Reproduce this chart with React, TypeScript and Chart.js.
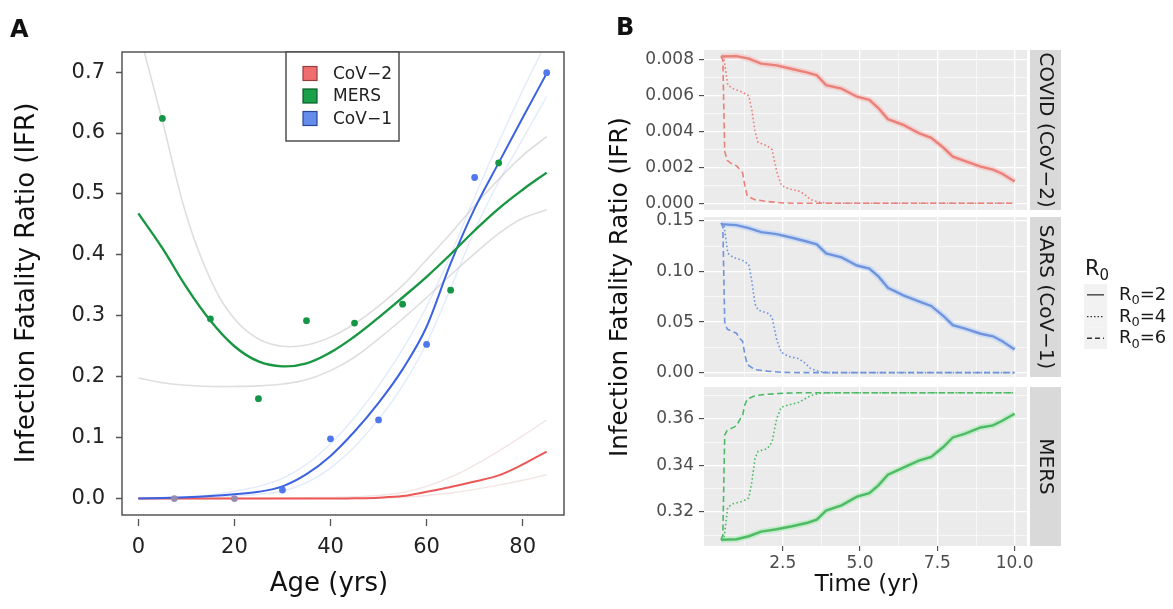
import React, { useEffect, useRef } from "react";
import { Chart, registerables } from "chart.js";

Chart.register(...registerables);

const FONT = "'DejaVu Sans', sans-serif";
const W = 1173;
const H = 609;

// ---------------- Panel A : IFR by age ----------------
const AGE_FIT = [0, 5, 10, 15, 20, 25, 30, 35, 40, 45, 50, 55, 60, 65, 70, 75, 80, 85];
const MERS_FIT = [0.468, 0.411, 0.347, 0.292, 0.25, 0.225, 0.217, 0.222, 0.24, 0.266, 0.297, 0.33, 0.364, 0.401, 0.44, 0.476, 0.507, 0.535];
const MERS_UPPER = [0.77, 0.62, 0.465, 0.36, 0.295, 0.262, 0.25, 0.252, 0.265, 0.287, 0.316, 0.35, 0.392, 0.435, 0.481, 0.524, 0.563, 0.594];
const MERS_LOWER = [0.198, 0.19, 0.186, 0.184, 0.184, 0.185, 0.188, 0.195, 0.21, 0.232, 0.262, 0.295, 0.33, 0.367, 0.402, 0.435, 0.46, 0.474];
const COV1_FIT = [0, 0.001, 0.002, 0.004, 0.007, 0.011, 0.02, 0.04, 0.07, 0.11, 0.157, 0.212, 0.282, 0.386, 0.476, 0.551, 0.625, 0.698];
const COV1_UPPER = [0, 0.001, 0.003, 0.006, 0.012, 0.02, 0.033, 0.056, 0.09, 0.133, 0.185, 0.245, 0.315, 0.4, 0.495, 0.585, 0.67, 0.75];
const COV1_LOWER = [0, 0, 0.001, 0.002, 0.004, 0.007, 0.012, 0.026, 0.05, 0.085, 0.13, 0.185, 0.255, 0.345, 0.44, 0.52, 0.59, 0.66];
const COV2_FIT = [0, 0, 0, 0, 0, 0, 0, 0, 0, 0.0005, 0.0015, 0.004, 0.011, 0.019, 0.028, 0.038, 0.056, 0.077];
const COV2_UPPER = [0, 0, 0, 0, 0, 0, 0.001, 0.0015, 0.002, 0.003, 0.005, 0.01, 0.02, 0.035, 0.055, 0.078, 0.103, 0.129];
const COV2_LOWER = [0, 0, 0, 0, 0, 0, 0, 0, 0, 0, 0.001, 0.002, 0.005, 0.009, 0.015, 0.022, 0.03, 0.039];

const MERS_AGES = [5, 15, 25, 35, 45, 55, 65, 75];
const MERS_IFR = [0.624, 0.295, 0.164, 0.292, 0.288, 0.319, 0.342, 0.551];
const COV1_AGES = [30, 40, 50, 60, 70, 85];
const COV1_IFR = [0.014, 0.098, 0.129, 0.253, 0.527, 0.699];
const COV2_AGES = [7.5, 20];
const COV2_IFR = [0.0, 0.0];

const AGE_TICKS = [0, 20, 40, 60, 80];
const IFR_TICKS_A = [0, 0.1, 0.2, 0.3, 0.4, 0.5, 0.6, 0.7];
const LEGEND_A = ["CoV\u22122", "MERS", "CoV\u22121"];

// ---------------- Panel B : IFR over time ----------------
const TIME_R2 = [0.5, 1.0, 1.4, 1.8, 2.3, 2.8, 3.3, 3.6, 3.9, 4.4, 4.9, 5.3, 5.6, 5.9, 6.4, 6.9, 7.3, 7.7, 8.0, 8.4, 8.9, 9.3, 9.6, 10];
const TIME_R4 = [0.5, 0.6, 0.72, 0.9, 1.2, 1.4, 1.5, 1.6, 1.7, 2.0, 2.15, 2.3, 2.45, 2.7, 3.0, 3.2, 3.4, 3.7, 4.0, 10];
const TIME_R6 = [0.5, 0.56, 0.62, 0.7, 0.85, 1.0, 1.1, 1.2, 1.27, 1.35, 1.6, 2.0, 2.5, 3.0, 10];

const COVID_R2 = [0.0082, 0.00822, 0.00808, 0.0078, 0.0077, 0.0075, 0.0073, 0.00715, 0.0066, 0.0064, 0.00595, 0.00578, 0.0053, 0.0047, 0.00438, 0.00392, 0.00365, 0.0031, 0.0026, 0.00235, 0.00205, 0.00188, 0.00165, 0.00122];
const COVID_R4 = [0.0082, 0.008, 0.0066, 0.0064, 0.0062, 0.006, 0.0052, 0.004, 0.0034, 0.0032, 0.003, 0.0018, 0.001, 0.0008, 0.0007, 0.0005, 0.0002, 0.00005, 0, 0];
const COVID_R6 = [0.0082, 0.008, 0.0029, 0.0024, 0.0022, 0.0021, 0.0019, 0.0017, 0.001, 0.0004, 0.0002, 0.0001, 0.00002, 0, 0];

const SARS_R2 = [0.147, 0.146, 0.143, 0.139, 0.137, 0.1335, 0.1295, 0.127, 0.118, 0.114, 0.106, 0.103, 0.095, 0.084, 0.0765, 0.0705, 0.066, 0.056, 0.047, 0.0435, 0.0385, 0.036, 0.031, 0.023];
const SARS_R4 = [0.148, 0.145, 0.118, 0.114, 0.111, 0.107, 0.09, 0.068, 0.062, 0.059, 0.055, 0.033, 0.02, 0.016, 0.014, 0.01, 0.004, 0.001, 0, 0];
const SARS_R6 = [0.148, 0.145, 0.05, 0.043, 0.041, 0.039, 0.034, 0.031, 0.018, 0.008, 0.003, 0.0015, 0.0003, 0, 0];

const MERS_R2 = [0.308, 0.3082, 0.3095, 0.3115, 0.3125, 0.3138, 0.3153, 0.3166, 0.3205, 0.3228, 0.3265, 0.328, 0.3315, 0.336, 0.339, 0.342, 0.3436, 0.348, 0.352, 0.3536, 0.3563, 0.3572, 0.3592, 0.3622];
const MERS_R4 = [0.308, 0.309, 0.322, 0.3235, 0.3245, 0.326, 0.333, 0.343, 0.346, 0.3472, 0.35, 0.36, 0.365, 0.366, 0.367, 0.3685, 0.37, 0.371, 0.3712, 0.3712];
const MERS_R6 = [0.308, 0.31, 0.353, 0.355, 0.356, 0.357, 0.3595, 0.3615, 0.366, 0.3685, 0.37, 0.3706, 0.371, 0.3712, 0.3712];

const TIME_MAJOR = [2.5, 5, 7.5, 10];
const TIME_MINOR = [1.25, 3.75, 6.25, 8.75];
const COVID_MAJOR = [0, 0.002, 0.004, 0.006, 0.008];
const COVID_MINOR = [0.001, 0.003, 0.005, 0.007];
const SARS_MAJOR = [0, 0.05, 0.1, 0.15];
const SARS_MINOR = [0.025, 0.075, 0.125];
const MERSB_MAJOR = [0.32, 0.34, 0.36];
const MERSB_MINOR = [0.31, 0.33, 0.35, 0.37];
const FACET_LABELS = ["COVID (CoV\u22122)", "SARS (CoV\u22121)", "MERS"];
const R0_VALUES = ["2", "4", "6"];

// ---------------- helpers ----------------
type Box = { left: number; top: number; right: number; bottom: number };
const pts = (xs: number[], ys: number[]) => xs.map((x, i) => ({ x, y: ys[i] }));
const has = (list: number[], v: any) => typeof v === "number" && list.some((m) => Math.abs(m - v) < 1e-9);

function txt(ctx: CanvasRenderingContext2D, s: string, x: number, y: number, o: any = {}) {
  ctx.save();
  ctx.font = `${o.weight || "normal"} ${o.size || 16}px ${FONT}`;
  ctx.fillStyle = o.color || "#1a1a1a";
  ctx.textAlign = o.align || "center";
  ctx.textBaseline = o.baseline || "middle";
  ctx.translate(x, y);
  if (o.rotate) ctx.rotate(o.rotate);
  ctx.fillText(s, 0, 0);
  ctx.restore();
}

function rLabel(ctx: CanvasRenderingContext2D, x: number, y: number, size: number, suffix: string) {
  ctx.save();
  ctx.fillStyle = "#1a1a1a";
  ctx.textBaseline = "alphabetic";
  ctx.textAlign = "left";
  ctx.font = `${size}px ${FONT}`;
  ctx.fillText("R", x, y);
  const w1 = ctx.measureText("R").width;
  ctx.font = `${Math.round(size * 0.7)}px ${FONT}`;
  ctx.fillText("0", x + w1, y + size * 0.25);
  const w2 = ctx.measureText("0").width;
  if (suffix) {
    ctx.font = `${size}px ${FONT}`;
    ctx.fillText(suffix, x + w1 + w2, y);
  }
  ctx.restore();
}

// ---------------- Panel A config ----------------
const AREA_A: Box = { left: 122, top: 52, right: 564, bottom: 515 };
const RED = "rgb(236, 88, 88)";
const GREEN = "rgb(24, 150, 66)";
const BLUE = "rgb(58, 98, 225)";

function fitLine(label: string, ys: number[], color: string, width: number, smooth = false) {
  const base: any = {
    label,
    data: pts(AGE_FIT, ys),
    showLine: true,
    borderColor: color,
    backgroundColor: color,
    borderWidth: width,
    pointRadius: 0,
  };
  if (smooth) base.tension = 0.4;
  else base.cubicInterpolationMode = "monotone";
  return base;
}
function dots(label: string, xs: number[], ys: number[], color: string) {
  return { label, data: pts(xs, ys), showLine: false, backgroundColor: color, borderColor: color, pointRadius: 3.4, pointBorderWidth: 0 };
}

const panelAPlugin = {
  id: "panelA",
  afterDraw(chart: any) {
    const ctx: CanvasRenderingContext2D = chart.ctx;
    const ca = chart.chartArea;
    ctx.save();
    ctx.strokeStyle = "#555";
    ctx.lineWidth = 1.5;
    ctx.strokeRect(ca.left, ca.top, ca.right - ca.left, ca.bottom - ca.top);
    // legend
    const lg = { left: 286, top: ca.top, right: 399, bottom: 141 };
    ctx.fillStyle = "#fff";
    ctx.fillRect(lg.left, lg.top, lg.right - lg.left, lg.bottom - lg.top);
    ctx.strokeStyle = "#444";
    ctx.lineWidth = 1.4;
    ctx.strokeRect(lg.left, lg.top, lg.right - lg.left, lg.bottom - lg.top);
    const fills = ["rgb(240,110,110)", "rgb(26,160,72)", "rgb(100,140,235)"];
    const edges = ["rgb(150,60,60)", "rgb(10,90,40)", "rgb(40,70,150)"];
    LEGEND_A.forEach((s, i) => {
      const cy = 73.5 + i * 22.5;
      ctx.fillStyle = fills[i];
      ctx.fillRect(303, cy - 7, 14, 14);
      ctx.strokeStyle = edges[i];
      ctx.lineWidth = 1.2;
      ctx.strokeRect(303, cy - 7, 14, 14);
      txt(ctx, s, 333, cy + 1, { size: 17, align: "left", color: "#222" });
    });
    ctx.restore();
    txt(ctx, "A", 10, 37, { size: 24, weight: "bold", align: "left", baseline: "alphabetic", color: "#111" });
    txt(ctx, "Infection Fatality Ratio (IFR)", 27, 283, { size: 26, rotate: -Math.PI / 2, color: "#111" });
    txt(ctx, "Age (yrs)", 329, 584, { size: 26, color: "#111" });
  },
};

function panelAConfig(): any {
  return {
    type: "scatter",
    data: {
      datasets: [
        dots("MERS data", MERS_AGES, MERS_IFR, "rgb(20,150,70)"),
        dots("CoV-1 data", COV1_AGES, COV1_IFR, "rgb(80,120,235)"),
        dots("CoV-2 data", COV2_AGES, COV2_IFR, "rgb(150,140,175)"),
        fitLine("MERS", MERS_FIT, GREEN, 2.4, true),
        fitLine("CoV-1", COV1_FIT, BLUE, 2),
        fitLine("CoV-2", COV2_FIT, RED, 2),
        fitLine("MERS upper", MERS_UPPER, "rgba(205,205,205,0.65)", 1.6, true),
        fitLine("MERS lower", MERS_LOWER, "rgba(205,205,205,0.65)", 1.6, true),
        fitLine("CoV-1 upper", COV1_UPPER, "rgba(190,210,245,0.45)", 1.4),
        fitLine("CoV-1 lower", COV1_LOWER, "rgba(190,210,245,0.45)", 1.4),
        fitLine("CoV-2 upper", COV2_UPPER, "rgba(235,210,210,0.6)", 1.4),
        fitLine("CoV-2 lower", COV2_LOWER, "rgba(235,210,210,0.6)", 1.4),
      ],
    },
    options: {
      responsive: false,
      animation: false,
      layout: { padding: { left: 0, top: AREA_A.top, right: W - AREA_A.right, bottom: 0 } },
      plugins: { legend: { display: false }, tooltip: { enabled: false } },
      scales: {
        x: {
          type: "linear",
          min: -3.4,
          max: 88.6,
          afterFit: (s: any) => { s.height = H - AREA_A.bottom; },
          afterBuildTicks: (s: any) => { s.ticks = AGE_TICKS.map((v) => ({ value: v })); },
          border: { display: false },
          grid: { drawOnChartArea: false, drawTicks: true, tickLength: 11, tickColor: "#555", tickWidth: 1.3, tickBorderDash: [0, 4, 7, 100] },
          ticks: { autoSkip: false, maxRotation: 0, padding: 9, color: "#222", font: { size: 21, family: FONT }, callback: (v: any) => String(v) },
        },
        y: {
          type: "linear",
          min: -0.027,
          max: 0.733,
          afterFit: (s: any) => { s.width = AREA_A.left; },
          afterBuildTicks: (s: any) => { s.ticks = IFR_TICKS_A.map((v) => ({ value: v })); },
          border: { display: false },
          grid: { drawOnChartArea: false, drawTicks: true, tickLength: 11, tickColor: "#555", tickWidth: 1.3, tickBorderDash: [0, 5, 6, 100] },
          ticks: { autoSkip: false, padding: 6, color: "#222", font: { size: 21, family: FONT }, callback: (v: any) => Number(v).toFixed(1) },
        },
      },
    },
    plugins: [panelAPlugin],
  };
}

// ---------------- Panel B config ----------------
type FacetDef = {
  label: string;
  area: Box;
  yMin: number;
  yMax: number;
  major: number[];
  minor: number[];
  digits: number;
  color: string;
  halo: string;
  series: [number[], number[]][];
};

const X_MIN_B = -0.05;
const X_MAX_B = 10.4;

const FACETS: FacetDef[] = [
  {
    label: FACET_LABELS[0],
    area: { left: 704, top: 50, right: 1027, bottom: 210 },
    yMin: -0.000375, yMax: 0.00856,
    major: COVID_MAJOR, minor: COVID_MINOR, digits: 3,
    color: "rgb(234,128,122)", halo: "rgba(248,190,186,0.55)",
    series: [[TIME_R2, COVID_R2], [TIME_R4, COVID_R4], [TIME_R6, COVID_R6]],
  },
  {
    label: FACET_LABELS[1],
    area: { left: 704, top: 217, right: 1027, bottom: 377 },
    yMin: -0.0043, yMax: 0.154,
    major: SARS_MAJOR, minor: SARS_MINOR, digits: 2,
    color: "rgb(112,148,220)", halo: "rgba(185,210,250,0.6)",
    series: [[TIME_R2, SARS_R2], [TIME_R4, SARS_R4], [TIME_R6, SARS_R6]],
  },
  {
    label: FACET_LABELS[2],
    area: { left: 704, top: 387, right: 1027, bottom: 546 },
    yMin: 0.3053, yMax: 0.3737,
    major: MERSB_MAJOR, minor: MERSB_MINOR, digits: 2,
    color: "rgb(78,186,102)", halo: "rgba(170,235,180,0.6)",
    series: [[TIME_R2, MERS_R2], [TIME_R4, MERS_R4], [TIME_R6, MERS_R6]],
  },
];

function facetPlugin(f: FacetDef, withOverlay: boolean) {
  return {
    id: "facet",
    beforeDraw(chart: any) {
      const ctx: CanvasRenderingContext2D = chart.ctx;
      const ca = chart.chartArea;
      ctx.save();
      ctx.fillStyle = "#EBEBEB";
      ctx.fillRect(ca.left, ca.top, ca.right - ca.left, ca.bottom - ca.top);
      ctx.restore();
    },
    afterDraw(chart: any) {
      const ctx: CanvasRenderingContext2D = chart.ctx;
      const ca = chart.chartArea;
      // strip
      const sx = ca.right + 3;
      const sw = 31;
      ctx.save();
      ctx.fillStyle = "#D9D9D9";
      ctx.fillRect(sx, ca.top, sw, ca.bottom - ca.top);
      ctx.beginPath();
      ctx.rect(sx, ca.top, sw, ca.bottom - ca.top);
      ctx.clip();
      txt(ctx, f.label, sx + sw / 2, (ca.top + ca.bottom) / 2, { size: 20, rotate: Math.PI / 2, color: "#1a1a1a" });
      ctx.restore();
      if (!withOverlay) return;
      txt(ctx, "B", 616, 35, { size: 24, weight: "bold", align: "left", baseline: "alphabetic", color: "#111" });
      txt(ctx, "Infection Fatality Ratio (IFR)", 621, 287, { size: 24.5, rotate: -Math.PI / 2, color: "#111" });
      txt(ctx, "Time (yr)", 867, 585, { size: 23, color: "#111" });
      // R0 legend
      rLabel(ctx, 1085, 275, 21, "");
      const dashes = [[], [1.5, 2], [5, 3]];
      R0_VALUES.forEach((v, i) => {
        const top = 284 + i * 21.7;
        const cy = top + 10.85;
        ctx.save();
        ctx.fillStyle = "#F2F2F2";
        ctx.fillRect(1084, top, 23, 21.7);
        ctx.strokeStyle = "#333";
        ctx.lineWidth = 1.3;
        ctx.setLineDash(dashes[i]);
        ctx.beginPath();
        ctx.moveTo(1087, cy);
        ctx.lineTo(1104, cy);
        ctx.stroke();
        ctx.restore();
        rLabel(ctx, 1119, cy + 5, 18, "=" + v);
      });
    },
  };
}

function facetConfig(f: FacetDef, isBottom: boolean): any {
  const dashes = [[], [1.6, 2.4], [6, 3.5]];
  const allY = [...f.major, ...f.minor].sort((a, b) => a - b);
  const allX = [...TIME_MAJOR, ...TIME_MINOR].sort((a, b) => a - b);
  const lines = f.series.map(([xs, ys], k) => ({
    label: "R0=" + R0_VALUES[k],
    data: pts(xs, ys),
    showLine: true,
    borderColor: f.color,
    backgroundColor: f.color,
    borderWidth: k === 0 ? 2.4 : 1.6,
    borderDash: dashes[k],
    pointRadius: 0,
    tension: 0,
  }));
  const [r2x, r2y] = f.series[0];
  const halo = {
    label: "R0=2 band",
    data: pts(r2x, r2y),
    showLine: true,
    borderColor: f.halo,
    backgroundColor: f.halo,
    borderWidth: 6,
    pointRadius: 0,
    tension: 0,
  };
  return {
    type: "scatter",
    data: { datasets: [...lines, halo] },
    options: {
      responsive: false,
      animation: false,
      layout: { padding: { left: 0, top: f.area.top, right: W - f.area.right, bottom: 0 } },
      plugins: { legend: { display: false }, tooltip: { enabled: false } },
      scales: {
        x: {
          type: "linear",
          min: X_MIN_B,
          max: X_MAX_B,
          afterFit: (s: any) => { s.height = H - f.area.bottom; },
          afterBuildTicks: (s: any) => { s.ticks = allX.map((v) => ({ value: v })); },
          border: { display: false },
          grid: {
            color: "#FFFFFF",
            lineWidth: (c: any) => (has(TIME_MAJOR, c.tick && c.tick.value) ? 1.3 : 0.6),
            drawTicks: isBottom,
            tickLength: 5,
            tickWidth: 1,
            tickColor: (c: any) => (has(TIME_MAJOR, c.tick && c.tick.value) ? "#333333" : "rgba(0,0,0,0)"),
          },
          ticks: {
            display: isBottom,
            autoSkip: false,
            maxRotation: 0,
            padding: 2,
            color: "#4D4D4D",
            font: { size: 17, family: FONT },
            callback: (v: any) => (has(TIME_MAJOR, v) ? Number(v).toFixed(1) : ""),
          },
        },
        y: {
          type: "linear",
          min: f.yMin,
          max: f.yMax,
          afterFit: (s: any) => { s.width = f.area.left; },
          afterBuildTicks: (s: any) => { s.ticks = allY.map((v) => ({ value: v })); },
          border: { display: false },
          grid: {
            color: "#FFFFFF",
            lineWidth: (c: any) => (has(f.major, c.tick && c.tick.value) ? 1.3 : 0.6),
            drawTicks: true,
            tickLength: 5,
            tickWidth: 1,
            tickColor: (c: any) => (has(f.major, c.tick && c.tick.value) ? "#333333" : "rgba(0,0,0,0)"),
          },
          ticks: {
            autoSkip: false,
            padding: 5,
            color: "#4D4D4D",
            font: { size: 17, family: FONT },
            callback: (v: any) => (has(f.major, v) ? Number(v).toFixed(f.digits) : ""),
          },
        },
      },
    },
    plugins: [facetPlugin(f, isBottom)],
  };
}

export default function App() {
  const aRef = useRef<HTMLCanvasElement>(null);
  const f1 = useRef<HTMLCanvasElement>(null);
  const f2 = useRef<HTMLCanvasElement>(null);
  const f3 = useRef<HTMLCanvasElement>(null);

  useEffect(() => {
    const charts: Chart[] = [];
    if (aRef.current) charts.push(new Chart(aRef.current, panelAConfig()));
    [f1, f2, f3].forEach((r, i) => {
      if (r.current) charts.push(new Chart(r.current, facetConfig(FACETS[i], i === 2)));
    });
    return () => charts.forEach((c) => c.destroy());
  }, []);

  const cs: React.CSSProperties = { position: "absolute", left: 0, top: 0 };
  return (
    <div style={{ position: "absolute", left: 0, top: 0, width: W, height: H, background: "#ffffff", overflow: "hidden" }}>
      <canvas ref={aRef} width={W} height={H} style={cs} />
      <canvas ref={f1} width={W} height={H} style={cs} />
      <canvas ref={f2} width={W} height={H} style={cs} />
      <canvas ref={f3} width={W} height={H} style={cs} />
    </div>
  );
}
